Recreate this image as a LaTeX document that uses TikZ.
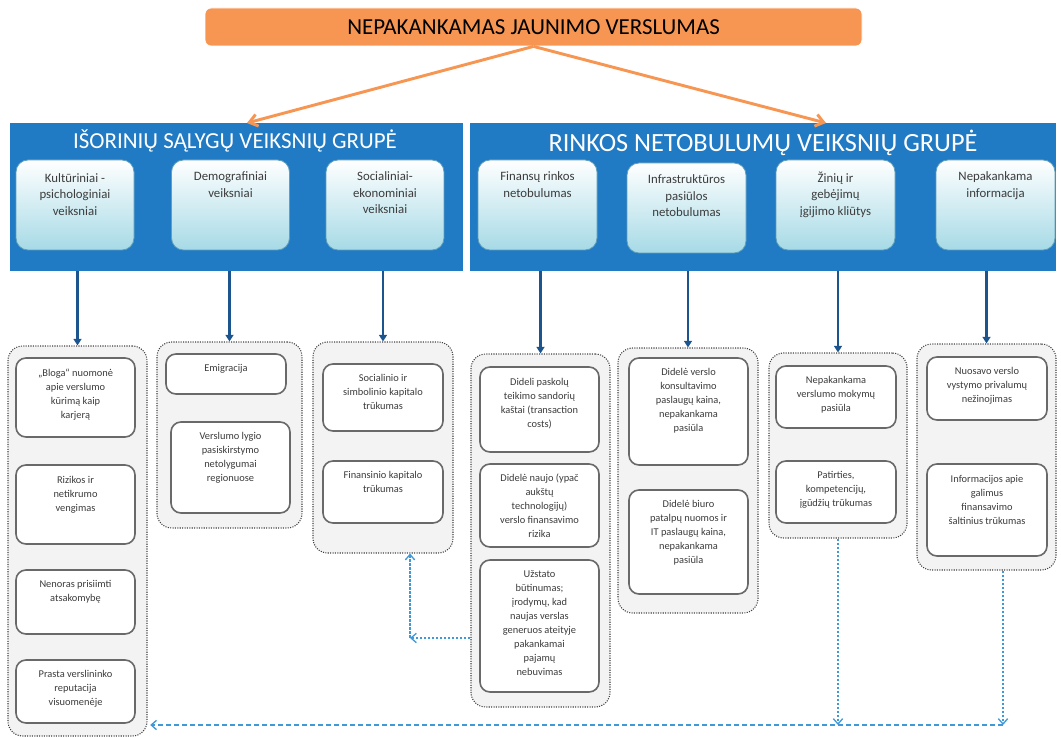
\documentclass[tikz,border=0pt]{standalone}
\usepackage{fontspec}
\setmainfont{Carlito}
\usetikzlibrary{arrows.meta}
\definecolor{titleorange}{RGB}{247,150,82}
\definecolor{groupblue}{RGB}{32,122,196}
\definecolor{factorcyan}{RGB}{166,218,230}
\definecolor{factoredge}{RGB}{96,160,186}
\definecolor{linkblue}{RGB}{28,84,142}
\definecolor{fbblue}{RGB}{64,152,214}
\definecolor{colgray}{RGB}{243,243,243}
\definecolor{itemedge}{RGB}{105,105,105}
\definecolor{textgray}{RGB}{60,60,60}

\begin{document}
\begin{tikzpicture}[x=0.75pt,y=0.75pt,yscale=-1,xscale=1,
  wh/.style 2 args={minimum width=#1*0.75pt,minimum height=#2*0.75pt},
  titlebox/.style={fill=titleorange,draw=white,line width=0.6pt,rounded corners=4.5pt,inner sep=0pt},
  groupbox/.style={fill=groupblue,inner sep=0pt},
  grouptitle/.style={text=white,inner sep=0pt},
  factor/.style={top color=white,bottom color=factorcyan,draw=factoredge,line width=0.6pt,rounded corners=9pt,inner sep=0pt},
  factortext/.style={text=textgray,align=center,inner sep=0pt,font=\fontsize{9.6}{12.4}\selectfont},
  column/.style={fill=colgray,draw=black!75,densely dotted,line width=0.8pt,rounded corners=11pt,inner sep=0pt},
  item/.style={fill=white,draw=itemedge,line width=1.2pt,rounded corners=7.5pt,inner sep=0pt},
  itemtext/.style={text=textgray,align=center,inner sep=0pt,font=\fontsize{7.8}{10.5}\selectfont},
  toparrow/.style={draw=titleorange,line width=2.2pt,-{Straight Barb[length=6pt,width=9pt]}},
  link/.style={draw=linkblue,line width=2pt,-{Triangle[length=5pt,width=6pt]}},
  fb/.style={draw=fbblue,line width=1pt,dash pattern=on 2pt off 1pt,-{Straight Barb[length=4pt,width=7pt]}},
  fbline/.style={draw=fbblue,line width=1pt,dash pattern=on 4pt off 2pt}]
\useasboundingbox (0,0) rectangle (1061,738);

% Title
\node[titlebox,wh={657}{38}] (title) at (533.5,27) {\fontsize{17.2}{20}\selectfont NEPAKANKAMAS JAUNIMO VERSLUMAS};

% Group boxes
\node[groupbox,wh={453}{148}] (G1) at (236.5,197) {};
\node[groupbox,wh={586}{148}] (G2) at (763,197) {};
\node[grouptitle,font=\fontsize{17.2}{20}\selectfont] (G1t) at (235,141) {IŠORINIŲ SĄLYGŲ VEIKSNIŲ GRUPĖ};
\node[grouptitle,font=\fontsize{19.7}{22}\selectfont] (G2t) at (763,143) {RINKOS NETOBULUMŲ VEIKSNIŲ GRUPĖ};

\coordinate (aL) at (247,123);
\coordinate (aR) at (826,123);
\draw[toparrow] (title.south) -- (aL);
\draw[toparrow] (title.south) -- (aR);

% Factor boxes
\node[factor,wh={118}{90}] (k1) at (75,205) {};
\node[factor,wh={118}{90}] (k2) at (230.5,205) {};
\node[factor,wh={118}{90}] (k3) at (385,205) {};
\node[factor,wh={119}{90}] (f1) at (537.5,205) {};
\node[factor,wh={119}{90}] (f2) at (686.5,208) {};
\node[factor,wh={119}{90}] (f3) at (835.5,205) {};
\node[factor,wh={119}{90}] (f4) at (995.5,205) {};

% yshift is flipped by yscale=-1: positive moves down
\node[factortext,anchor=north] (k1t) at ([yshift=10pt]k1.north) {Kultūriniai -\\psichologiniai\\veiksniai};
\node[factortext,anchor=north] (k2t) at ([yshift=9pt]k2.north) {Demografiniai\\veiksniai};
\node[factortext,anchor=north] (k3t) at ([yshift=9pt]k3.north) {Socialiniai-\\ekonominiai\\veiksniai};
\node[factortext,anchor=north] (f1t) at ([yshift=9pt]f1.north) {Finansų rinkos\\netobulumas};
\node[factortext,anchor=north] (f2t) at ([yshift=9pt]f2.north) {Infrastruktūros\\pasiūlos\\netobulumas};
\node[factortext,anchor=north] (f3t) at ([yshift=9pt]f3.north) {Žinių ir\\gebėjimų\\įgijimo kliūtys};
\node[factortext,anchor=north] (f4t) at ([yshift=9pt]f4.north) {Nepakankama\\informacija};

% Columns
\node[column,wh={139}{390}] (c1) at (77.5,541) {};
\node[column,wh={145}{186}] (c2) at (229.5,435) {};
\node[column,wh={140}{211}] (c3) at (383,447.5) {};
\node[column,wh={139}{353}] (c4) at (540.5,530.5) {};
\node[column,wh={140}{265}] (c5) at (688,480.5) {};
\node[column,wh={138}{185}] (c6) at (838,445.5) {};
\node[column,wh={139}{226}] (c7) at (986.5,457) {};

% Links
\draw[link] (G1.south -| c1.north) -- (c1.north);
\draw[link] (G1.south -| c2.north) -- (c2.north);
\draw[link] (G1.south -| c3.north) -- (c3.north);
\draw[link] (G2.south -| c4.north) -- (c4.north);
\draw[link] (G2.south -| c5.north) -- (c5.north);
\draw[link] (G2.south -| c6.north) -- (c6.north);
\draw[link] (G2.south -| c7.north) -- (c7.north);

% Items
\node[item,wh={119}{79}] (c1a) at (75.5,397.5) {};
\node[item,wh={119}{79}] (c1b) at (75.5,504.5) {};
\node[item,wh={119}{64}] (c1c) at (75.5,602) {};
\node[item,wh={119}{63}] (c1d) at (75.5,691.5) {};
\node[item,wh={120}{40}] (c2a) at (226,374) {};
\node[item,wh={119}{91}] (c2b) at (230.5,467.5) {};
\node[item,wh={120}{67}] (c3a) at (383,397.5) {};
\node[item,wh={120}{62}] (c3b) at (383,492) {};
\node[item,wh={119}{85}] (c4a) at (539.5,409.5) {};
\node[item,wh={119}{83}] (c4b) at (539.5,505.5) {};
\node[item,wh={119}{132}] (c4c) at (539.5,626) {};
\node[item,wh={119}{107}] (c5a) at (688.5,411.5) {};
\node[item,wh={119}{104}] (c5b) at (688.5,542) {};
\node[item,wh={120}{62}] (c6a) at (836,397) {};
\node[item,wh={120}{62}] (c6b) at (836,492) {};
\node[item,wh={120}{63}] (c7a) at (987,388.5) {};
\node[item,wh={120}{92}] (c7b) at (987,510) {};

\node[itemtext,anchor=north] (c1at) at ([yshift=9pt]c1a.north) {„Bloga“ nuomonė\\apie verslumo\\kūrimą kaip\\karjerą};
\node[itemtext,anchor=north] (c1bt) at ([yshift=9pt]c1b.north) {Rizikos ir\\netikrumo\\vengimas};
\node[itemtext,anchor=north] (c1ct) at ([yshift=8.5pt]c1c.north) {Nenoras prisiimti\\atsakomybę};
\node[itemtext,anchor=north] (c1dt) at ([yshift=8pt]c1d.north) {Prasta verslininko\\reputacija\\visuomenėje};
\node[itemtext,anchor=north] (c2at) at ([yshift=8pt]c2a.north) {Emigracija};
\node[itemtext,anchor=north] (c2bt) at ([yshift=8pt]c2b.north) {Verslumo lygio\\pasiskirstymo\\netolygumai\\regionuose};
\node[itemtext,anchor=north] (c3at) at ([yshift=8pt]c3a.north) {Socialinio ir\\simbolinio kapitalo\\trūkumas};
\node[itemtext,anchor=north] (c3bt) at ([yshift=8pt]c3b.north) {Finansinio kapitalo\\trūkumas};
\node[itemtext,anchor=north] (c4at) at ([yshift=9pt]c4a.north) {Dideli paskolų\\teikimo sandorių\\kaštai (transaction\\costs)};
\node[itemtext,anchor=north] (c4bt) at ([yshift=8pt]c4b.north) {Didelė naujo (ypač\\aukštų\\technologijų)\\verslo finansavimo\\rizika};
\node[itemtext,anchor=north] (c4ct) at ([yshift=8pt]c4c.north) {Užstato\\būtinumas;\\įrodymų, kad\\naujas verslas\\generuos ateityje\\pakankamai\\pajamų\\nebuvimas};
\node[itemtext,anchor=north] (c5at) at ([yshift=8pt]c5a.north) {Didelė verslo\\konsultavimo\\paslaugų kaina,\\nepakankama\\pasiūla};
\node[itemtext,anchor=north] (c5bt) at ([yshift=8pt]c5b.north) {Didelė biuro\\patalpų nuomos ir\\IT paslaugų kaina,\\nepakankama\\pasiūla};
\node[itemtext,anchor=north] (c6at) at ([yshift=8pt]c6a.north) {Nepakankama\\verslumo mokymų\\pasiūla};
\node[itemtext,anchor=north] (c6bt) at ([yshift=8pt]c6b.north) {Patirties,\\kompetencijų,\\įgūdžių trūkumas};
\node[itemtext,anchor=north] (c7at) at ([yshift=8pt]c7a.north) {Nuosavo verslo\\vystymo privalumų\\nežinojimas};
\node[itemtext,anchor=north] (c7bt) at ([yshift=9pt]c7b.north) {Informacijos apie\\galimus\\finansavimo\\šaltinius trūkumas};

% Feedback lines
\coordinate (fbR) at (1003,725);
\coordinate (elbow) at (410,638);
\draw[fb] (c6.south) -- (c6.south |- fbR);
\draw[fb] (c7.south -| fbR) -- (fbR);
\draw[fbline,-{Straight Barb[length=4pt,width=7pt]}] (fbR) -- ([xshift=2pt]c1.east |- fbR);
\draw[fb] (c4.west |- elbow) -- (elbow);
\draw[fb] (elbow) -- (c3.south -| elbow);

\end{tikzpicture}
\end{document}
